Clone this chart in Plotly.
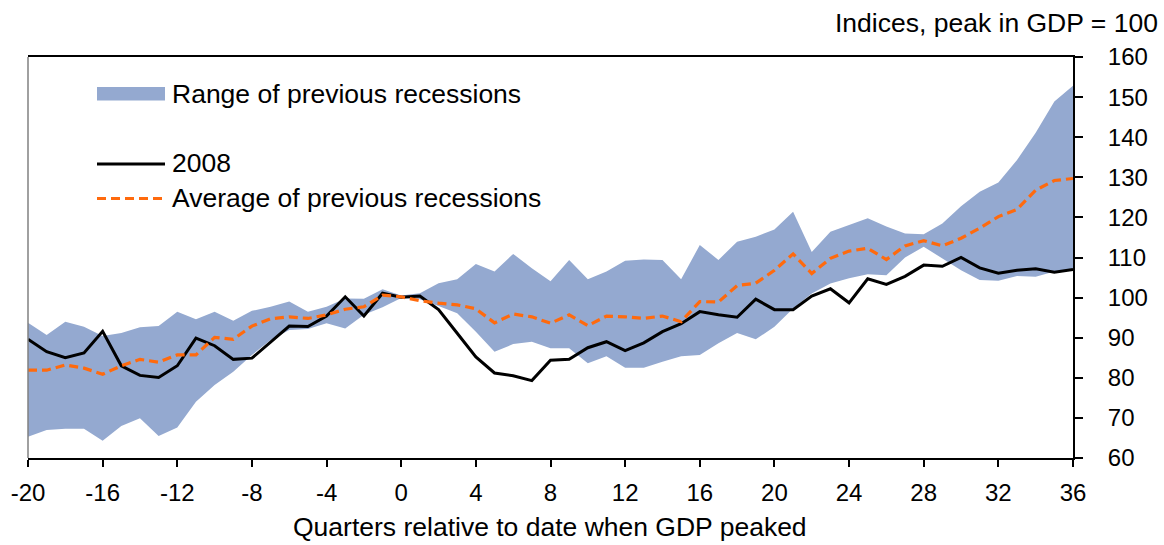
import plotly.graph_objects as go

quarters = list(range(-20, 37))

gdp_2008 = [89.6, 86.5, 85.0, 86.2, 91.6, 83.0, 80.6, 80.1, 83.0, 89.9,
            88.0, 84.6, 84.9, 88.8, 92.9, 92.8, 95.4, 100.2, 95.4, 101.1,
            100.1, 100.4, 97.0, 91.1, 85.2, 81.2, 80.5, 79.3, 84.4, 84.6,
            87.5, 89.0, 86.8, 88.7, 91.5, 93.5, 96.5, 95.7, 95.1, 99.6,
            97.0, 97.0, 100.4, 102.2, 98.7, 104.7, 103.3, 105.3, 108.1, 107.8,
            110.0, 107.4, 106.1, 106.8, 107.2, 106.3, 107.0]

avg_prev = [81.9, 81.9, 83.2, 82.4, 80.9, 83.0, 84.6, 83.9, 85.7, 85.7,
            90.1, 89.6, 92.9, 94.7, 95.2, 94.8, 95.7, 97.1, 97.7, 100.6,
            100.2, 99.2, 98.6, 98.2, 97.2, 93.7, 95.9, 95.2, 93.6, 95.7,
            93.0, 95.4, 95.2, 94.8, 95.4, 94.0, 99.0, 98.9, 103.0, 103.6,
            106.8, 110.9, 106.0, 109.8, 111.6, 112.3, 109.5, 112.9, 114.2, 112.9,
            114.8, 117.3, 120.2, 122.0, 126.8, 129.2, 129.7]

range_high = [93.7, 90.7, 94.0, 92.7, 90.4, 91.2, 92.6, 92.9, 96.5, 94.6,
              96.5, 94.2, 96.7, 97.7, 99.0, 96.5, 97.7, 99.8, 99.7, 102.1,
              100.5, 101.1, 103.6, 104.6, 108.4, 106.5, 110.9, 107.3, 104.1, 109.4,
              104.6, 106.5, 109.2, 109.5, 109.4, 104.6, 113.1, 109.4, 113.9, 115.2,
              117.0, 121.4, 111.4, 116.4, 118.1, 119.8, 117.7, 116.0, 115.8, 118.5,
              122.8, 126.4, 128.7, 134.3, 141.1, 148.9, 152.8]

range_low = [65.3, 67.0, 67.3, 67.3, 64.3, 68.0, 69.9, 65.5, 67.6, 74.0,
             78.2, 81.5, 85.7, 89.4, 91.9, 92.2, 93.6, 92.3, 95.7, 97.6,
             99.9, 99.6, 97.9, 96.1, 91.5, 86.5, 88.4, 89.0, 87.4, 87.4,
             83.6, 85.4, 82.5, 82.5, 84.0, 85.4, 85.7, 88.6, 91.2, 89.6,
             92.7, 97.3, 101.0, 103.5, 104.8, 105.8, 105.6, 110.0, 112.7, 109.8,
             106.8, 104.4, 104.2, 105.4, 105.2, 106.5, 106.9]

x_ticks = list(range(-20, 37, 4))
x_tick_labels = [str(v) for v in x_ticks]
y_ticks = list(range(60, 161, 10))

BAND = "#94A9D0"
ORANGE = "#FF6A0D"
FONT = "Liberation Sans, Arial, sans-serif"
TXT = 26.5
TICK = 24

fig = go.Figure()
fig.add_trace(go.Scatter(x=quarters, y=range_low, mode="lines",
                         line=dict(width=0, color=BAND), showlegend=False,
                         hoverinfo="skip"))
fig.add_trace(go.Scatter(x=quarters, y=range_high, mode="lines",
                         line=dict(width=0, color=BAND), fill="tonexty",
                         fillcolor=BAND, name="Range of previous recessions",
                         showlegend=False))
fig.add_trace(go.Scatter(x=quarters, y=gdp_2008, mode="lines",
                         line=dict(color="black", width=3), name="2008",
                         showlegend=False))
fig.add_trace(go.Scatter(x=quarters, y=avg_prev, mode="lines",
                         line=dict(color=ORANGE, width=3.2, dash="9px,5px"),
                         name="Average of previous recessions", showlegend=False))

W, H = 1164, 545
L, R, T, B = 28, 1073, 57, 458
pw, ph = R - L, B - T

def px(x):
    return (x - L) / pw

def py(y):
    return (B - y) / ph

shapes = [
    dict(type="line", xref="paper", yref="paper", x0=0, x1=0, y0=0, y1=1,
         line=dict(color="#808080", width=1.5)),
    dict(type="rect", xref="paper", yref="paper", x0=px(97), x1=px(165),
         y0=py(100.5), y1=py(87), fillcolor=BAND, line=dict(width=0)),
    dict(type="line", xref="paper", yref="paper", x0=px(97), x1=px(165),
         y0=py(164), y1=py(164), line=dict(color="black", width=3)),
    dict(type="line", xref="paper", yref="paper", x0=px(97), x1=px(165),
         y0=py(198.5), y1=py(198.5), line=dict(color=ORANGE, width=3.2, dash="9px,5px")),
]

annotations = [
    dict(text="Range of previous recessions", xref="paper", yref="paper",
         x=px(170), y=py(94), xanchor="left", yanchor="middle", showarrow=False,
         font=dict(size=TXT, color="black", family=FONT)),
    dict(text="2008", xref="paper", yref="paper",
         x=px(170), y=py(163), xanchor="left", yanchor="middle", showarrow=False,
         font=dict(size=TXT, color="black", family=FONT)),
    dict(text="Average of previous recessions", xref="paper", yref="paper",
         x=px(170), y=py(198.5), xanchor="left", yanchor="middle", showarrow=False,
         font=dict(size=TXT, color="black", family=FONT)),
    dict(text="Indices, peak in GDP = 100", xref="paper", yref="paper",
         x=px(1160), y=py(23), xanchor="right", yanchor="middle", showarrow=False,
         font=dict(size=TXT, color="black", family=FONT)),
    dict(text="Quarters relative to date when GDP peaked", xref="paper", yref="paper",
         x=px(550), y=py(527), xanchor="center", yanchor="middle", showarrow=False,
         font=dict(size=TXT, color="black", family=FONT)),
]

fig.update_layout(
    width=W, height=H,
    margin=dict(l=L, r=W - R, t=T, b=H - B, pad=0, autoexpand=False),
    paper_bgcolor="white", plot_bgcolor="white",
    font=dict(family=FONT, size=TICK, color="black"),
    showlegend=False,
    shapes=shapes, annotations=annotations,
    xaxis=dict(range=[-20, 36], tickvals=x_ticks, ticktext=x_tick_labels,
               ticks="outside", ticklen=7,
               tickwidth=1.5, tickcolor="black", showline=True, linecolor="black",
               linewidth=1.5, mirror=True, showgrid=False, zeroline=False,
               ticklabelstandoff=5, automargin=False),
    yaxis=dict(range=[60, 160], tickvals=y_ticks, side="right", ticks="outside",
               ticklen=8, tickwidth=1.5, tickcolor="black", showline=True,
               linecolor="black", linewidth=2, showgrid=False, zeroline=False,
               ticklabelstandoff=20, automargin=False),
)

fig.write_html("out.html", config={"displayModeBar": False},
               post_script="document.body.style.margin='0px';")
